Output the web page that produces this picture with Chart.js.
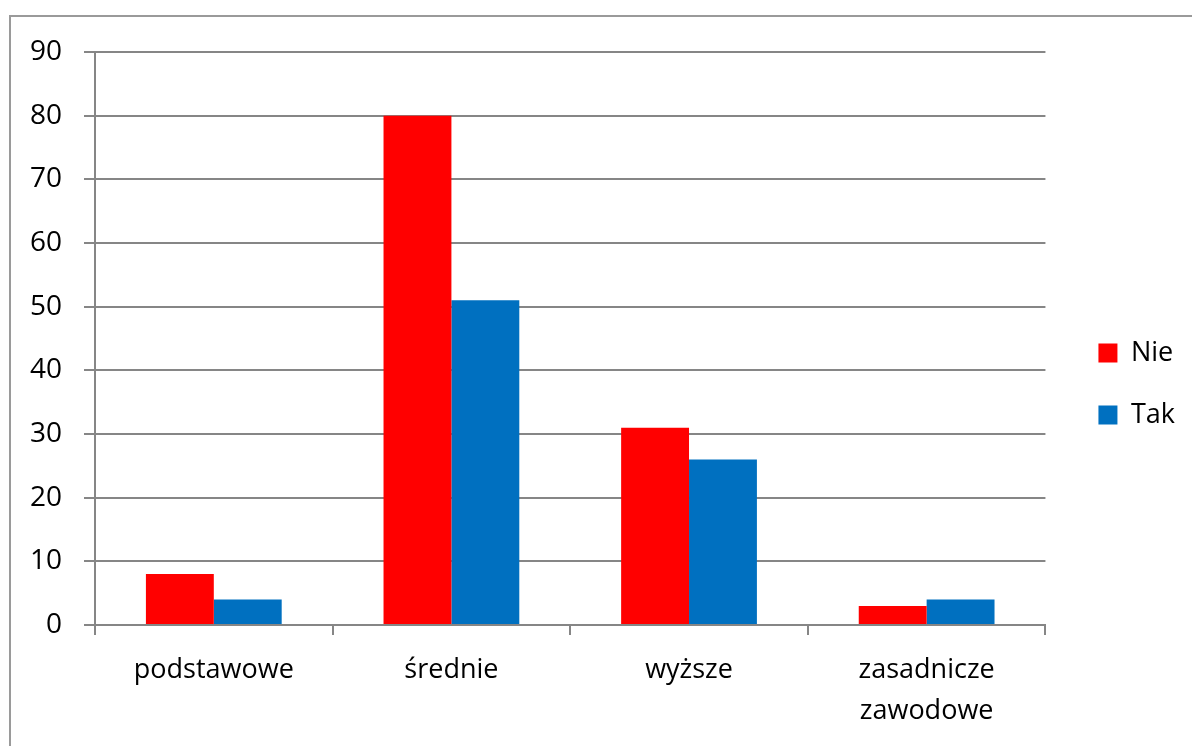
<!DOCTYPE html>
<html lang="pl">
<head>
<meta charset="utf-8">
<script src="https://cdn.jsdelivr.net/npm/chart.js@4"></script>
<style>
  html, body { margin: 0; padding: 0; background: #fff; overflow: hidden; }
  #ramka { position: absolute; left: 9px; top: 15px; width: 1300px; height: 900px; border: 2px solid #9a9a9a; }
  #wrap { position: absolute; left: 0; top: 0; width: 1192px; height: 746px; }
</style>
</head>
<body>
<div id="ramka"></div>
<div id="wrap"><canvas id="wykres" width="1192" height="746"></canvas></div>
<script>
// dane
const kategorie = ['podstawowe', 'średnie', 'wyższe', ['zasadnicze', 'zawodowe']];
const nie = [8, 80, 31, 3];
const tak = [4, 51, 26, 4];
const osY = { min: 0, max: 90, krok: 10 };

const szary = '#868686';
const czcionka = '"Open Sans", "Noto Sans", sans-serif';

// legenda trochę wyżej i bardziej w prawo, jak w Excelu
const przesunLegende = {
    id: 'przesunLegende',
    afterLayout(chart) {
        const l = chart.legend;
        if (!l) return;
        const dx = 18, dy = -15;
        l.left += dx; l.right += dx;
        l.top += dy; l.bottom += dy;
    }
};

const ctx = document.getElementById('wykres').getContext('2d');
new Chart(ctx, {
    type: 'bar',
    data: {
        labels: kategorie,
        datasets: [
            { label: 'Nie', data: nie, backgroundColor: '#FF0000', borderWidth: 0 },
            { label: 'Tak', data: tak, backgroundColor: '#0070C0', borderWidth: 0 }
        ]
    },
    options: {
        responsive: false,
        animation: false,
        layout: { padding: { top: 52, left: 0, right: 25, bottom: 0 } },
        datasets: { bar: { categoryPercentage: 2 / 3.5, barPercentage: 1 } },
        plugins: {
            tooltip: { enabled: false },
            legend: {
                position: 'right',
                labels: {
                    boxWidth: 19,
                    boxHeight: 19,
                    padding: 35,
                    color: '#000',
                    font: { family: czcionka, size: 27 }
                }
            }
        },
        scales: {
            x: {
                grid: { display: true, drawOnChartArea: false, drawTicks: true, tickLength: 10, color: szary, lineWidth: 2, offset: true },
                border: { color: szary, width: 2 },
                ticks: { color: '#000', padding: 14, font: { family: czcionka, size: 27, lineHeight: 1.55 }, maxRotation: 0 },
                afterFit(s) { s.height = 121; }
            },
            y: {
                min: osY.min,
                max: osY.max,
                grid: { color: szary, lineWidth: 2, tickLength: 11, drawTicks: true },
                border: { color: szary, width: 2 },
                ticks: { stepSize: osY.krok, color: '#000', padding: 22, font: { family: czcionka, size: 28 } },
                afterFit(s) { s.width = 95; }
            }
        }
    },
    plugins: [przesunLegende]
});
</script>
</body>
</html>
